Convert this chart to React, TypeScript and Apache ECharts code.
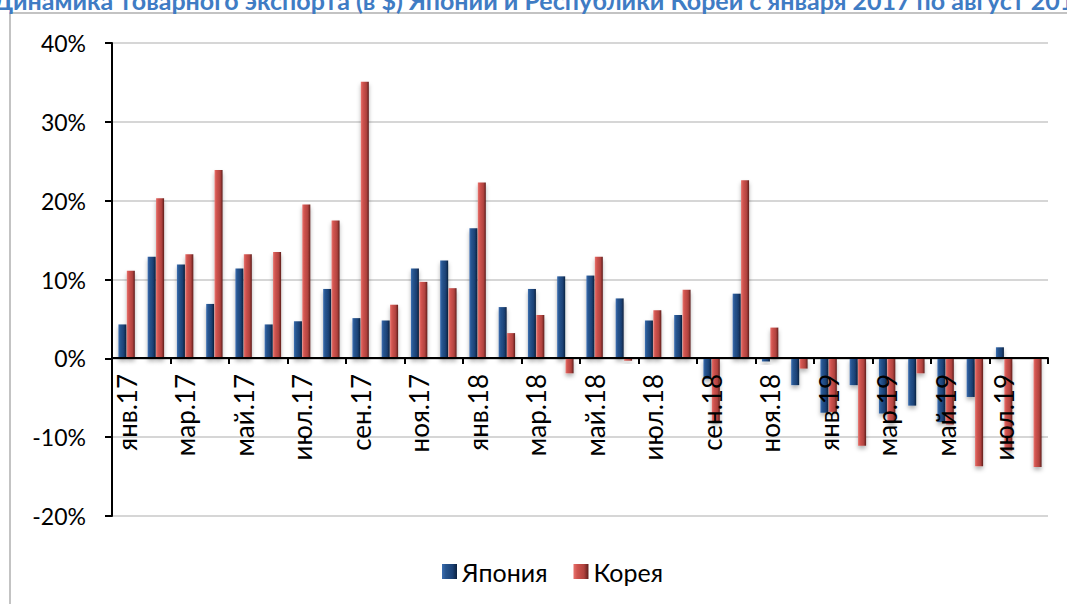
import React, { useEffect, useRef } from "react";
import * as echarts from "echarts";

const categories = [
  "янв.17", "фев.17", "мар.17", "апр.17", "май.17", "июн.17", "июл.17", "авг.17",
  "сен.17", "окт.17", "ноя.17", "дек.17", "янв.18", "фев.18", "мар.18", "апр.18",
  "май.18", "июн.18", "июл.18", "авг.18", "сен.18", "окт.18", "ноя.18", "дек.18",
  "янв.19", "фев.19", "мар.19", "апр.19", "май.19", "июн.19", "июл.19", "авг.19",
];

const japan = [
  4.3, 12.9, 11.9, 6.9, 11.4, 4.3, 4.7, 8.8, 5.1, 4.8, 11.4, 12.4,
  16.5, 6.5, 8.8, 10.4, 10.5, 7.6, 4.8, 5.5, -2.6, 8.2, -0.4, -3.4,
  -6.9, -3.4, -7.0, -6.0, -8.1, -4.9, 1.4, null,
];

const korea = [
  11.1, 20.3, 13.2, 23.9, 13.2, 13.5, 19.5, 17.5, 35.1, 6.8, 9.7, 8.9,
  22.3, 3.2, 5.5, -1.9, 12.9, -0.3, 6.1, 8.7, -8.1, 22.6, 3.9, -1.3,
  -6.8, -11.1, -8.2, -1.9, -8.4, -13.7, -11.7, -13.8,
];

const seriesNames = ["Япония", "Корея"];
const titleText =
  "Динамика товарного экспорта (в $) Японии и Республики Кореи с января 2017 по август 2019";

const FONT = "Lato, 'Open Sans', sans-serif";

function hGrad(stops: [number, string][]) {
  return new echarts.graphic.LinearGradient(
    0, 0, 1, 0,
    stops.map(([offset, color]) => ({ offset, color }))
  );
}

export default function App() {
  const ref = useRef<HTMLDivElement>(null);
  useEffect(() => {
    if (!ref.current) return;
    const chart = echarts.init(ref.current, undefined, { renderer: "svg" });
    const blue = hGrad([
      [0, "#3d6fb2"],
      [0.25, "#27558f"],
      [0.7, "#1b4175"],
      [1, "#0c2240"],
    ]);
    const red = hGrad([
      [0, "#e8746f"],
      [0.25, "#d0544f"],
      [0.7, "#b0423e"],
      [1, "#5e1d1b"],
    ]);
    chart.setOption({
      animation: false,
      backgroundColor: "#ffffff",
      graphic: [
        {
          type: "rect",
          shape: { x: 10, y: 13, width: 1200, height: 700 },
          style: { fill: "none", stroke: "#b0b0b0", lineWidth: 1.5 },
          silent: true,
        },
        {
          type: "text",
          x: -7,
          y: -13,
          style: {
            text: titleText,
            font: `bold 25px ${FONT}`,
            fill: "#3f7cc4",
          },
          silent: true,
        },
      ],
      legend: {
        data: seriesNames,
        bottom: 15,
        left: 437,
        icon: "rect",
        itemWidth: 15,
        itemHeight: 15,
        itemGap: 26,
        textStyle: { fontSize: 25, fontFamily: FONT, color: "#000" },
      },
      grid: { left: 112, right: 19, top: 43, bottom: 88 },
      xAxis: {
        type: "category",
        data: categories,
        z: 10,
        position: "bottom",
        offset: -158,
        boundaryGap: true,
        axisLine: { onZero: false, lineStyle: { color: "#000", width: 2 } },
        axisTick: { show: true, interval: 1, length: 6, lineStyle: { color: "#000", width: 2 } },
        axisLabel: {
          interval: 1,
          rotate: 90,
          margin: 16,
          fontSize: 26,
          fontFamily: FONT,
          color: "#000",
        },
      },
      yAxis: {
        type: "value",
        min: -20,
        max: 40,
        interval: 10,
        axisLine: { show: true, lineStyle: { color: "#000", width: 2 } },
        axisTick: { show: true, length: 7, lineStyle: { color: "#000", width: 2 } },
        axisLabel: {
          formatter: "{value}%",
          fontSize: 23,
          fontFamily: FONT,
          color: "#000",
          margin: 26,
        },
        splitLine: { lineStyle: { color: "#d6d6d6", width: 2 } },
      },
      series: [
        {
          name: seriesNames[0],
          type: "bar",
          data: japan,
          barWidth: 8,
          barGap: "5%",
          itemStyle: {
            color: blue,
            shadowColor: "rgba(0,0,0,0.3)",
            shadowBlur: 4,
            shadowOffsetY: 3,
          },
        },
        {
          name: seriesNames[1],
          type: "bar",
          data: korea,
          barWidth: 8,
          itemStyle: {
            color: red,
            shadowColor: "rgba(0,0,0,0.3)",
            shadowBlur: 4,
            shadowOffsetY: 3,
          },
        },
      ],
    });
    return () => chart.dispose();
  }, []);
  return (
    <div
      ref={ref}
      style={{ position: "fixed", left: 0, top: 0, width: 1067, height: 604 }}
    />
  );
}
